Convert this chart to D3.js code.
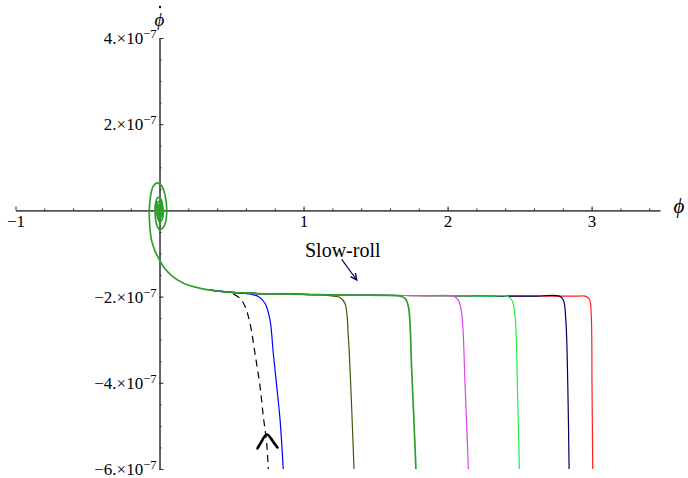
<!DOCTYPE html>
<html>
<head>
<meta charset="utf-8">
<script src="https://cdn.jsdelivr.net/npm/d3@7"></script>
<style>
  body { margin: 0; background: #fff; }
  text { font-family: "Liberation Serif", "DejaVu Serif", serif; }
</style>
</head>
<body>
<div id="chart"></div>
<script>
// phase portrait: phi (x) vs phi-dot (y, in units of 1e-7)

// common slow-roll attractor + spiral into the origin
var attractor = [[2.98,-1.99],[2.9,-1.99],[2.75,-1.99],[2.6,-1.99],[2.45,-1.99],[2.3,-1.99],[2.15,-1.985],
  [2.0,-1.98],[1.85,-1.98],[1.7,-1.975],[1.55,-1.97],[1.4,-1.965],[1.25,-1.96],[1.1,-1.955],[1.0,-1.95],
  [0.85,-1.94],[0.7,-1.93],[0.6,-1.915],[0.5,-1.90],
  [0.35,-1.85],[0.25,-1.78],[0.16,-1.68],[0.08,-1.50],[0.03,-1.32],[0.0,-1.15],[-0.03,-0.95],
  [-0.055,-0.70],[-0.068,-0.35],[-0.071,0.0],[-0.063,0.32],[-0.045,0.55],[-0.017,0.64],[0.015,0.57],
  [0.04,0.33],[0.05,0.0],[0.043,-0.26],[0.025,-0.40],[0.0,-0.44],[-0.02,-0.33],[-0.031,-0.05],
  [-0.027,0.18],[-0.012,0.30],[0.008,0.27],[0.022,0.1],[0.026,-0.06],[0.017,-0.22],[0.0,-0.27],
  [-0.014,-0.16],[-0.02,0.04],[-0.012,0.2],[0.004,0.18],[0.016,0.02],[0.012,-0.14],[0.0,-0.19],
  [-0.012,-0.08],[-0.014,0.08],[-0.004,0.14],[0.008,0.08],[0.01,-0.06],[0.0,-0.12],[-0.009,-0.03],
  [-0.007,0.08],[0.004,0.06],[0.005,-0.04],[-0.003,-0.06],[-0.004,0.03],[0.002,0.02],[0,0]];

// fast-roll branches, from the corner down to the bottom
var redBranch     = [[2.955,-1.99],[2.985,-2.06],[2.997,-2.39],[3.003,-4.09],[3.008,-6.06]];
var navyBranch    = [[2.777,-1.99],[2.804,-2.08],[2.821,-2.54],[2.835,-4.09],[2.844,-6.06]];
var limeBranch    = [[2.411,-1.99],[2.446,-2.08],[2.469,-2.47],[2.485,-4.09],[2.499,-6.06]];
var magentaBranch = [[2.040,-1.99],[2.075,-2.08],[2.098,-2.39],[2.122,-4.09],[2.145,-6.06]];
var oliveBranch   = [[1.207,-1.99],[1.253,-2.02],[1.288,-2.16],[1.311,-2.93],[1.328,-4.09],[1.342,-5.25],[1.351,-6.06]];
var blueBranch    = [[0.628,-1.94],[0.686,-2.00],[0.733,-2.16],[0.767,-2.54],[0.790,-3.32],[0.814,-4.09],[0.837,-4.86],[0.860,-6.06]];
var greenBranch   = [[1.670,-1.99],[1.705,-2.04],[1.728,-2.23],[1.751,-3.70],[1.781,-6.06]];
var dashedBranch  = [[0.513,-1.94],[0.559,-2.04],[0.594,-2.23],[0.628,-2.62],[0.663,-3.32],[0.698,-4.09],[0.721,-4.79],[0.744,-5.40],[0.756,-6.06]];

var xMajor = [-1, 1, 2, 3];
var yMajor = [-6, -4, -2, 2, 4];

var slowRollArrow = [[1.265,-1.135],[1.369,-1.615]];
var caret = [[0.680,-5.52],[0.713,-5.34],[0.745,-5.13],[0.780,-5.33],[0.819,-5.50]];

var W = 688, H = 478;
var serif = "Liberation Serif, DejaVu Serif, serif";
var svg = d3.select("#chart").append("svg").attr("width", W).attr("height", H);

var x = d3.scaleLinear().domain([-1, 3.475]).range([15.5, 660]);
var y = d3.scaleLinear().domain([-6e-7, 4e-7]).range([469, 38]);

// axes crossing at the origin
var xAxisG = svg.append("g").attr("transform", "translate(0," + y(0) + ")");
xAxisG.call(d3.axisBottom(x).tickValues(d3.range(-0.8, 3.45, 0.2)).tickSizeInner(-2).tickSizeOuter(0).tickFormat(""));
var xMaj = xAxisG.append("g").call(d3.axisBottom(x).tickValues(xMajor).tickSizeInner(-4).tickSizeOuter(0)
    .tickPadding(5).tickFormat(d => d < 0 ? "\u2212" + Math.abs(d) : d));
xMaj.attr("font-family", serif).attr("font-size", 17);
xMaj.selectAll("text").attr("fill", "#000");

var yAxisG = svg.append("g").attr("transform", "translate(" + x(0) + ",0)");
yAxisG.call(d3.axisLeft(y).tickValues(d3.range(-6, 4.01, 0.5).map(v => v * 1e-7)).tickSizeInner(-2).tickSizeOuter(0).tickFormat(""));
var yMaj = yAxisG.append("g").call(d3.axisLeft(y).tickValues(yMajor.map(v => v * 1e-7)).tickSizeInner(-4).tickSizeOuter(0).tickFormat(""));
yMaj.attr("font-family", serif);
svg.selectAll(".domain, .tick line").attr("stroke", "#333");

yMaj.selectAll(".tick").each(function(d) {
  var v = Math.round(d * 1e7);
  var t = d3.select(this).append("text")
    .attr("x", -3).attr("y", 5.5)
    .attr("text-anchor", "end").attr("fill", "#000").attr("font-size", 17)
    .attr("font-family", serif);
  t.append("tspan").text((v < 0 ? "\u2212" : "") + Math.abs(v) + ".\u00d710");
  t.append("tspan").attr("dy", -6).attr("font-size", 12.5).text("\u22127");
});

// axis labels
svg.append("text").attr("x", x(3.475) + 19).attr("y", y(0) + 3).attr("font-family", serif)
  .attr("font-size", 21).attr("font-style", "italic").attr("text-anchor", "middle").text("\u03d5");
svg.append("text").attr("x", x(0)).attr("y", 26).attr("font-family", serif)
  .attr("font-size", 19).attr("font-style", "italic").attr("text-anchor", "middle").text("\u03d5");
svg.append("circle").attr("cx", x(0) + 0.5).attr("cy", 7).attr("r", 1.2).attr("fill", "#000");

// trajectories
svg.append("clipPath").attr("id", "clip").append("rect")
  .attr("x", 0).attr("y", 0).attr("width", W).attr("height", y(-6e-7));
var plot = svg.append("g").attr("clip-path", "url(#clip)");

var line = d3.line().x(d => x(d[0])).y(d => y(d[1] * 1e-7)).curve(d3.curveCatmullRom.alpha(0.5));

function trajectory(branch, full) {
  var corner = branch[0][0];
  var rest = full
    ? attractor.slice(attractor.findIndex(p => p[0] < corner - 0.05))
    : attractor.filter(p => p[0] < corner - 0.05 && p[0] > 0.3);
  return branch.slice().reverse().concat(rest);
}

var series = [
  {data: trajectory(redBranch), color: "#ff2020", w: 1.2},
  {data: trajectory(navyBranch), color: "#000060", w: 1.2},
  {data: trajectory(limeBranch), color: "#22ee44", w: 1.2},
  {data: trajectory(magentaBranch), color: "#dd44ee", w: 1.2},
  {data: trajectory(oliveBranch), color: "#3b5b0b", w: 1.2},
  {data: trajectory(blueBranch), color: "#0000ff", w: 1.2},
  {data: dashedBranch, color: "#000", w: 1.2, dash: "7,5"},
  {data: trajectory(greenBranch, true), color: "#2f9f2f", w: 1.7}
];

plot.selectAll("path.traj").data(series).join("path")
  .attr("class", "traj")
  .attr("d", d => line(d.data))
  .attr("fill", "none")
  .attr("stroke", d => d.color)
  .attr("stroke-width", d => d.w)
  .attr("stroke-dasharray", d => d.dash || null);

// direction caret on the dashed curve
svg.append("path").attr("d", d3.line().x(d => x(d[0])).y(d => y(d[1] * 1e-7)).curve(d3.curveBasis)(caret))
  .attr("fill", "none").attr("stroke", "#000").attr("stroke-width", 2.6).attr("stroke-linecap", "round");

// Slow-roll annotation
svg.append("text").attr("x", x(1.01)).attr("y", y(-1.08e-7)).attr("font-family", serif)
  .attr("font-size", 20).attr("fill", "#000").text("Slow-roll");
var a0 = [x(slowRollArrow[0][0]), y(slowRollArrow[0][1] * 1e-7)];
var a1 = [x(slowRollArrow[1][0]), y(slowRollArrow[1][1] * 1e-7)];
var ang = Math.atan2(a1[1] - a0[1], a1[0] - a0[0]);
svg.append("line").attr("x1", a0[0]).attr("y1", a0[1]).attr("x2", a1[0]).attr("y2", a1[1])
  .attr("stroke", "#000050").attr("stroke-width", 1.2);
var hl = 7, hw = 0.45;
svg.append("path")
  .attr("d", "M" + (a1[0] - hl * Math.cos(ang - hw)) + "," + (a1[1] - hl * Math.sin(ang - hw)) +
    "L" + a1[0] + "," + a1[1] +
    "L" + (a1[0] - hl * Math.cos(ang + hw)) + "," + (a1[1] - hl * Math.sin(ang + hw)))
  .attr("fill", "none").attr("stroke", "#000050").attr("stroke-width", 1.4);
</script>
</body>
</html>
